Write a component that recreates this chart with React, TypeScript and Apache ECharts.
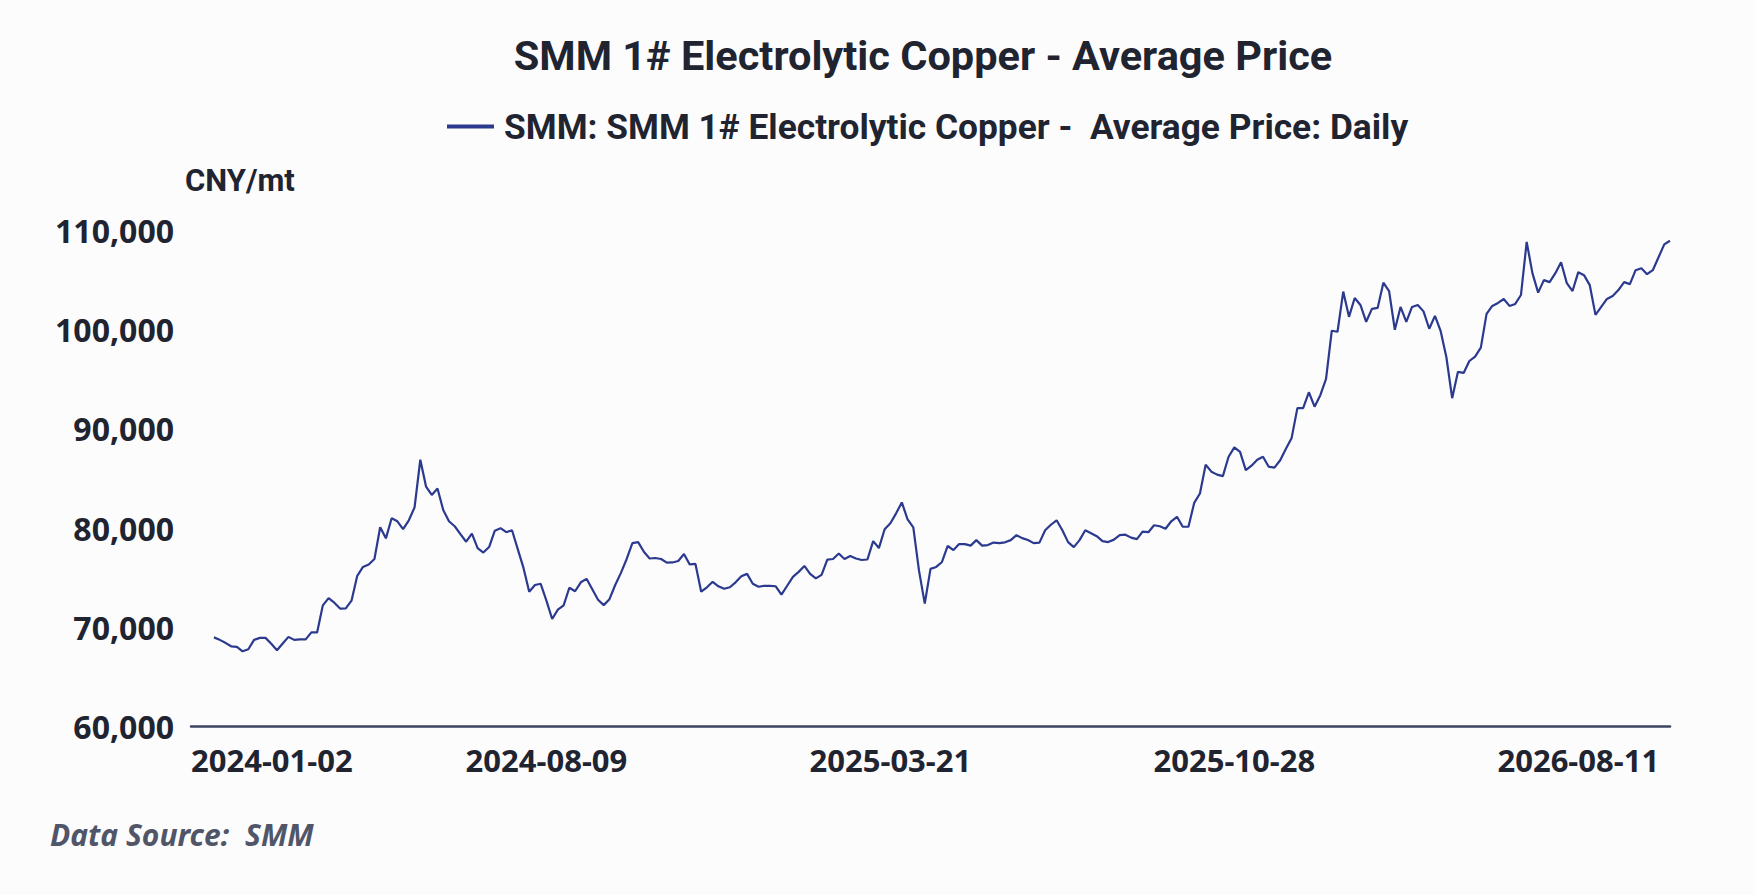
import React, { useEffect, useRef } from "react";
import * as echarts from "echarts";

const TITLE = "SMM 1# Electrolytic Copper - Average Price";
const SERIES_NAME = "SMM: SMM 1# Electrolytic Copper -  Average Price: Daily";
const UNIT = "CNY/mt";
const SOURCE = "Data Source:  SMM";

// x-axis tick labels and the category index at which each one sits
const TICK_LABELS = ["2024-01-02", "2024-08-09", "2025-03-21", "2025-10-28", "2026-08-11"];
const TICK_INDEX = [0, 62, 122, 182, 242];
const CATEGORY_COUNT = 259;
const LEADING_EMPTY = 4;

// daily average price, CNY/mt
const PRICES = [
  69000, 68750, 68450, 68100, 68050, 67600, 67800, 68750, 68950, 68950,
  68350, 67700, 68380, 69050, 68750, 68800, 68800, 69500, 69500, 72230,
  72950, 72500, 71900, 71930, 72700, 75200, 76100, 76350, 76900, 80100,
  78980, 81000, 80700, 79900, 80800, 82100, 86900, 84200, 83350, 84000,
  81840, 80700, 80200, 79400, 78640, 79450, 78000, 77550, 78100, 79750,
  80000, 79600, 79800, 77900, 76000, 73600, 74280, 74400, 72700, 70850,
  71800, 72230, 74000, 73650, 74550, 74900, 73850, 72800, 72250, 72850,
  74280, 75500, 76900, 78500, 78600, 77630, 76950, 77000, 76900, 76530,
  76550, 76700, 77400, 76350, 76400, 73600, 74050, 74600, 74150, 73900,
  74050, 74550, 75150, 75400, 74400, 74100, 74200, 74200, 74150, 73300,
  74200, 75100, 75600, 76200, 75400, 74950, 75300, 76830, 76900, 77450,
  76900, 77200, 76950, 76800, 76850, 78700, 78000, 79900, 80500, 81500,
  82600, 80900, 80090, 75700, 72400, 75900, 76100, 76600, 78210, 77800,
  78400, 78400, 78250, 78800, 78250, 78300, 78550, 78500, 78580, 78800,
  79300, 79000, 78810, 78500, 78550, 79800, 80350, 80800, 79800, 78600,
  78100, 78800, 79800, 79500, 79200, 78700, 78600, 78850, 79300, 79350,
  79050, 78900, 79650, 79600, 80300, 80200, 79950, 80700, 81150, 80150,
  80150, 82550, 83500, 86400, 85700, 85400, 85250, 87200, 88150, 87700,
  85850, 86300, 86900, 87200, 86200, 86100, 86850, 88000, 89100, 92100,
  92100, 93700, 92250, 93400, 95050, 99900, 99800, 103850, 101300, 103200,
  102500, 100800, 102100, 102200, 104740, 103900, 100000, 102300, 100800, 102300,
  102500, 101850, 100100, 101400, 99850, 97200, 93100, 95750, 95650, 96850,
  97300, 98200, 101600, 102400, 102700, 103100, 102400, 102600, 103500, 108850,
  105700, 103740, 105000, 104800, 105700, 106800, 104700, 103900, 105800, 105500,
  104500, 101500, 102300, 103100, 103400, 104000, 104800, 104600, 106000, 106200,
  105600, 106000, 107300, 108600, 108970,
];

const Y_MIN = 60000;
const Y_MAX = 110000;
const Y_STEP = 10000;

const TEXT = "#1f2430";
const FONT = "'Noto Sans', 'DejaVu Sans', sans-serif";
const FONT_TEXT = "Roboto, 'Noto Sans', sans-serif";

export default function App() {
  const ref = useRef<HTMLDivElement>(null);

  useEffect(() => {
    if (!ref.current) return;
    const chart = echarts.init(ref.current, undefined, { renderer: "svg" });

    const categories = Array.from({ length: CATEGORY_COUNT }, (_, i) => {
      const k = TICK_INDEX.indexOf(i);
      return k >= 0 ? TICK_LABELS[k] : "";
    });
    const data: (number | null)[] = [
      ...Array.from({ length: LEADING_EMPTY }, () => null),
      ...PRICES,
    ];

    chart.setOption({
      animation: false,
      backgroundColor: "#fcfcfd",
      textStyle: { fontFamily: FONT },
      title: [
        {
          text: TITLE,
          left: 918,
          top: 29,
          textAlign: "center",
          textStyle: { fontFamily: FONT_TEXT, fontSize: 41.5, fontWeight: "bold", color: TEXT },
        },
        {
          text: UNIT,
          left: 180,
          top: 160,
          textStyle: { fontFamily: FONT_TEXT, fontSize: 31, fontWeight: "bold", color: TEXT },
        },
        {
          text: SOURCE,
          left: 45,
          top: 814,
          textStyle: {
            fontFamily: FONT,
            fontSize: 30,
            fontWeight: "bold",
            fontStyle: "italic",
            color: "#505668",
          },
        },
      ],
      legend: {
        left: 442,
        top: 104,
        icon: "rect",
        itemWidth: 47,
        itemHeight: 4,
        textStyle: {
          fontFamily: FONT_TEXT,
          fontSize: 35.3,
          fontWeight: "bold",
          color: TEXT,
          padding: [0, 0, 0, 5],
        },
        data: [SERIES_NAME],
      },
      grid: { left: 191, right: 86, top: 230.5, bottom: 168.3, containLabel: false },
      xAxis: {
        type: "category",
        data: categories,
        boundaryGap: false,
        axisLine: { lineStyle: { color: "#3d4462", width: 2.5 } },
        axisTick: { show: false },
        splitLine: { show: false },
        axisLabel: {
          interval: (index: number) => TICK_INDEX.indexOf(index) >= 0,
          alignMinLabel: "left",
          margin: 18,
          fontFamily: FONT,
          fontSize: 31,
          fontWeight: "bold",
          color: TEXT,
        },
      },
      yAxis: {
        type: "value",
        min: Y_MIN,
        max: Y_MAX,
        interval: Y_STEP,
        axisLine: { show: false },
        axisTick: { show: false },
        splitLine: { show: false },
        axisLabel: {
          margin: 17,
          fontFamily: FONT,
          fontSize: 32,
          fontWeight: "bold",
          color: TEXT,
          formatter: (v: number) => v.toLocaleString("en-US"),
        },
      },
      series: [
        {
          name: SERIES_NAME,
          type: "line",
          data,
          showSymbol: false,
          symbol: "none",
          color: "#2b3a8e",
          lineStyle: { color: "#2b3a8e", width: 2.2 },
        },
      ],
    });

    return () => chart.dispose();
  }, []);

  return (
    <div
      ref={ref}
      style={{ position: "fixed", left: 0, top: 0, width: 1756, height: 895 }}
    />
  );
}
